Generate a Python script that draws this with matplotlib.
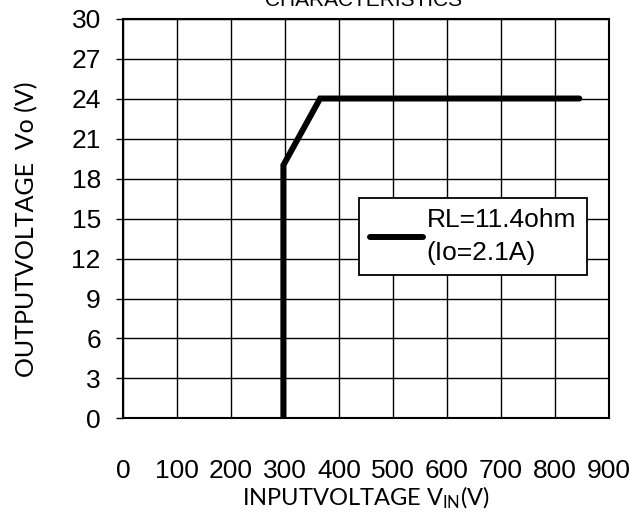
import matplotlib
matplotlib.use("Agg")
import matplotlib.pyplot as plt

# curve
vin = [297, 297, 365, 845]
vout = [0, 19, 24, 24]

x_ticks = [0, 100, 200, 300, 400, 500, 600, 700, 800, 900]
y_ticks = [0, 3, 6, 9, 12, 15, 18, 21, 24, 27, 30]
series_label = "RL=11.4ohm\n(Io=2.1A)"

plt.rcParams['font.family'] = ['Liberation Sans', 'DejaVu Sans']
plt.rcParams['mathtext.default'] = 'regular'

fig = plt.figure(figsize=(6.33, 5.2), dpi=100)
ax = fig.add_axes([0.1943, 0.1952, 0.7678, 0.7692])

ax.plot(vin, vout, color="black", lw=4.3, solid_capstyle="round",
        solid_joinstyle="miter", label=series_label, zorder=3)

ax.set_xlim(0, 900)
ax.set_ylim(0, 30)
ax.set_xticks(x_ticks)
ax.set_yticks(y_ticks)
ax.grid(True, color="black", lw=1.0)
ax.set_axisbelow(True)
for s in ax.spines.values():
    s.set_linewidth(1.5)

ax.tick_params(axis="x", length=0, pad=29, labelsize=19)
ax.tick_params(axis="y", length=5, width=1, pad=11, labelsize=19, direction="out")

ax.set_xlabel("INPUTVOLTAGE V$_{IN}$(V)", family=["Lato", "DejaVu Sans"], fontsize=17)
ax.set_ylabel("OUTPUTVOLTAGE  Vo (V)", family=["Lato", "DejaVu Sans"], fontsize=18)
ax.xaxis.set_label_coords(0.5, -0.165)
ax.yaxis.set_label_coords(-0.175, 0.474)

leg = ax.legend(loc="center", bbox_to_anchor=(0.72, 0.455), fontsize=19,
                fancybox=False, framealpha=1, edgecolor="black",
                handlelength=2.0, handletextpad=0.15, borderpad=0.4)
leg.get_frame().set_linewidth(1.3)
for t in leg.get_texts():
    t.set_linespacing(1.45)

fig.text(0.574, 0.988, "CHARACTERISTICS", ha="center", va="baseline", fontsize=15)

fig.savefig("out.png", dpi=100)
